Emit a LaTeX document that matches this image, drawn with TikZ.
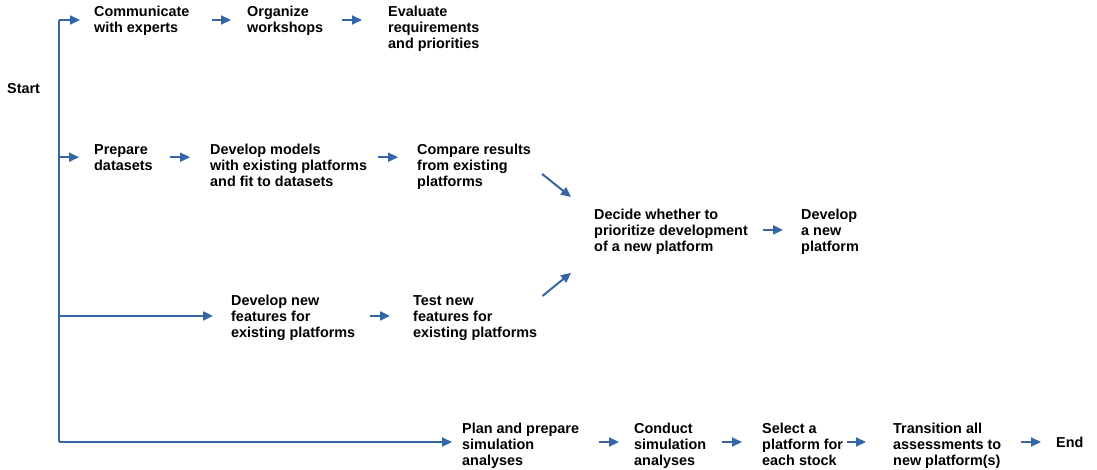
\documentclass[tikz,border=0pt]{standalone}
\usepackage{fontspec}
\setmainfont{Liberation Sans}
\usetikzlibrary{arrows.meta}
\definecolor{flowblue}{RGB}{52,101,164}
\tikzstyle{task} = [anchor=north west, inner sep=0pt, align=left, font=\bfseries\fontsize{14.4}{16}\selectfont]
\tikzstyle{flowline} = [draw=flowblue, line width=2pt]
\tikzstyle{arrow} = [flowline, -{Triangle[length=10pt,width=9pt]}]

\begin{document}
\begin{tikzpicture}[x=1pt, y=-1pt]
            \useasboundingbox (0,0) rectangle (1097,469);
            \node[task] (start) at (7,83) {Start};
            \node[task] (comm) at (94,6) {Communicate\\with experts};
            \node[task] (org) at (247,6) {Organize\\workshops};
            \node[task] (eval) at (388,6) {Evaluate\\requirements\\and priorities};
            \node[task] (prep) at (94,144) {Prepare\\datasets};
            \node[task] (models) at (210,144) {Develop models\\with existing platforms\\and fit to datasets};
            \node[task] (compare) at (417,144) {Compare results\\from existing\\platforms};
            \node[task] (decide) at (594,209) {Decide whether to\\prioritize development\\of a new platform};
            \node[task] (newplat) at (801,209) {Develop\\a new\\platform};
            \node[task] (features) at (231,295) {Develop new\\features for\\existing platforms};
            \node[task] (test) at (413,295) {Test new\\features for\\existing platforms};
            \node[task] (plan) at (462,423) {Plan and prepare\\simulation\\analyses};
            \node[task] (conduct) at (634,423) {Conduct\\simulation\\analyses};
            \node[task] (select) at (762,423) {Select a\\platform for\\each stock};
            \node[task] (transition) at (893,423) {Transition all\\assessments to\\new platform(s)};
            \node[task] (end) at (1056,437) {End};
            \coordinate (trunk top) at (59,20);
            \coordinate (trunk bot) at (59,442);
            \draw[flowline] (trunk top) -- (trunk bot);
            \draw[arrow, shorten >=14pt] (trunk top) -- (trunk top -| comm.west);
            \draw[arrow, shorten <=22pt, shorten >=16pt] (comm.east |- trunk top) -- (org.west |- trunk top);
            \draw[arrow, shorten <=19pt, shorten >=26pt] (org.east |- trunk top) -- (eval.west |- trunk top);
            \draw[arrow, shorten >=15pt] (trunk top |- prep) -- (prep);
            \draw[arrow, shorten <=17pt, shorten >=20pt] (prep) -- (prep -| models.west);
            \draw[arrow, shorten <=11pt, shorten >=19pt] (models.east |- prep) -- (compare.west |- prep);
            \draw[arrow] ([shift={(11,7)}]compare.east) -- ([shift={(-23,-12)}]decide.north west);
            \draw[arrow, shorten >=18pt] ([yshift=2pt]trunk top |- features) -- ([yshift=2pt]features.west);
            \draw[arrow, shorten <=15pt, shorten >=23pt] ([yshift=2pt]features.east) -- ([yshift=2pt]features.east -| test.west);
            \draw[arrow] ([shift={(5,1)}]test.north east) -- ([shift={(-23,18)}]decide.south west);
            \draw[arrow, shorten <=15pt, shorten >=18pt] ([yshift=2pt]decide.east) -- ([yshift=2pt]decide.east -| newplat.west);
            \draw[arrow, shorten >=10pt] (trunk bot) -- (trunk bot -| plan.west);
            \draw[arrow, shorten <=20pt, shorten >=15pt] (plan.east |- trunk bot) -- (conduct.west |- trunk bot);
            \draw[arrow, shorten <=16pt, shorten >=20pt] (conduct.east |- trunk bot) -- (select.west |- trunk bot);
            \draw[arrow, shorten <=4pt, shorten >=27pt] (select.east |- trunk bot) -- (transition.west |- trunk bot);
            \draw[arrow, shorten <=20pt, shorten >=15pt] (transition.east |- trunk bot) -- (end.west |- trunk bot);
        \end{tikzpicture}
\end{document}
